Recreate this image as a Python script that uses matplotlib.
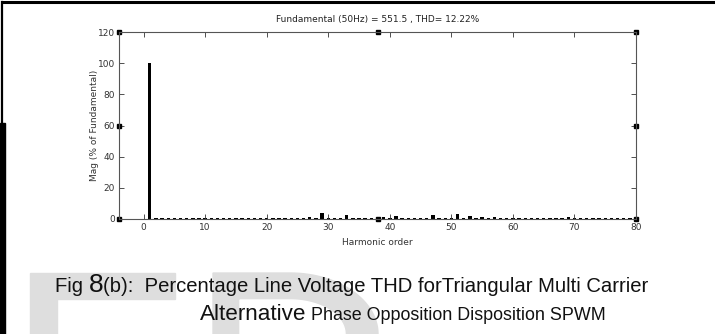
import matplotlib
matplotlib.use('Agg')
import matplotlib.pyplot as plt
import numpy as np
from matplotlib.patches import Rectangle, Polygon

# harmonic spectrum (% of fundamental)
harmonics = list(range(0, 81))
base_level = 0.5
peaks = {1: 100, 27: 1.5, 29: 4.0, 31: 0.8, 33: 2.5, 39: 1.5, 41: 2.0,
         47: 2.5, 51: 3.5, 53: 2.0, 55: 1.2, 57: 1.2, 63: 0.8, 69: 1.0}
mags = [peaks.get(h, base_level) for h in harmonics]
mags[0] = 0.0

x_ticks = [0, 10, 20, 30, 40, 50, 60, 70, 80]
y_ticks = [0, 20, 40, 60, 80, 100, 120]
title = 'Fundamental (50Hz) = 551.5 , THD= 12.22%'

W, H = 715, 334
fig = plt.figure(figsize=(W / 100, H / 100), dpi=100)
small = ['Liberation Sans Narrow', 'DejaVu Sans Condensed', 'DejaVu Sans']
grey = '#dedede'


def px(x, y):
    return x / W, 1 - y / H


# page decorations: black border strokes and gray watermark
fig.add_artist(plt.Line2D([3 / W, 1], [1 - 1.5 / H] * 2, color='black', lw=2.2))
fig.add_artist(plt.Line2D([1.5 / W] * 2, [1 - 2 / H, 1 - 123 / H], color='black', lw=1.6))
fig.add_artist(Rectangle(px(0, 334), 4.5 / W, 211 / H, color='black'))
fig.add_artist(Rectangle(px(30, 334), 27 / W, 61 / H, color=grey, zorder=0))
fig.add_artist(Rectangle(px(57, 299), 118 / W, 26 / H, color=grey, zorder=0))
outer = [px(213, 334), px(213, 273)] + [px(290 + 88 * np.cos(t), 334 - 61 * np.sin(t))
                                       for t in np.linspace(np.pi / 2, 0, 30)]
fig.add_artist(Polygon(outer, closed=True, color=grey, zorder=0))
inner = [px(240, 334), px(240, 300)] + [px(290 + 55 * np.cos(t), 334 - 34 * np.sin(t))
                                       for t in np.linspace(np.pi / 2, 0, 30)]
fig.add_artist(Polygon(inner, closed=True, color='white', zorder=0))

ax = fig.add_axes([119 / W, 1 - 219 / H, 517 / W, 187 / H])
ax.bar(harmonics, mags, width=0.55, color='black')
ax.set_xlim(-4, 80)
ax.set_ylim(0, 120)
ax.set_xticks(x_ticks)
ax.set_yticks(y_ticks)
ax.tick_params(direction='in', length=3.5, width=0.6, top=True, right=True,
               labelsize=6.5, colors='#333333', pad=3)
for lab in ax.get_xticklabels() + ax.get_yticklabels():
    lab.set_family(small)
for s in ax.spines.values():
    s.set_linewidth(0.8)
    s.set_color('#555555')
ax.set_title(title, fontsize=6.5, family=small, color='#222222', pad=7)
ax.set_xlabel('Harmonic order', fontsize=6.5, family=small, color='#333333', labelpad=4)
ax.set_ylabel('Mag (% of Fundamental)', fontsize=6.5, family=small, color='#333333', labelpad=-1)

# selection handles on the axes box
hx = [0, 0.5, 1, 0, 1, 0, 0.5, 1]
hy = [1, 1, 1, 0.5, 0.5, 0, 0, 0]
ax.plot(hx, hy, 's', ms=3.2, color='black', transform=ax.transAxes, clip_on=False)

# caption pieces (text, size)
line1 = [('Fig ', 14.6), ('8', 19), ('(b):  Percentage Line Voltage THD forTriangular Multi Carrier', 14.6)]
line2 = [('Alternative', 16.2), (' Phase Opposition Disposition SPWM', 12.9)]
fig.canvas.draw()
renderer = fig.canvas.get_renderer()
for pieces, x0, yb in [(line1, 55, 292), (line2, 200, 320)]:
    xcur = x0 / W
    for txt, size in pieces:
        t = fig.text(xcur, 1 - yb / H, txt, fontsize=size, family='Liberation Sans',
                     va='baseline', ha='left', color='#111111')
        bb = t.get_window_extent(renderer)
        xcur = bb.x1 / W

fig.savefig('out.png', dpi=100)
